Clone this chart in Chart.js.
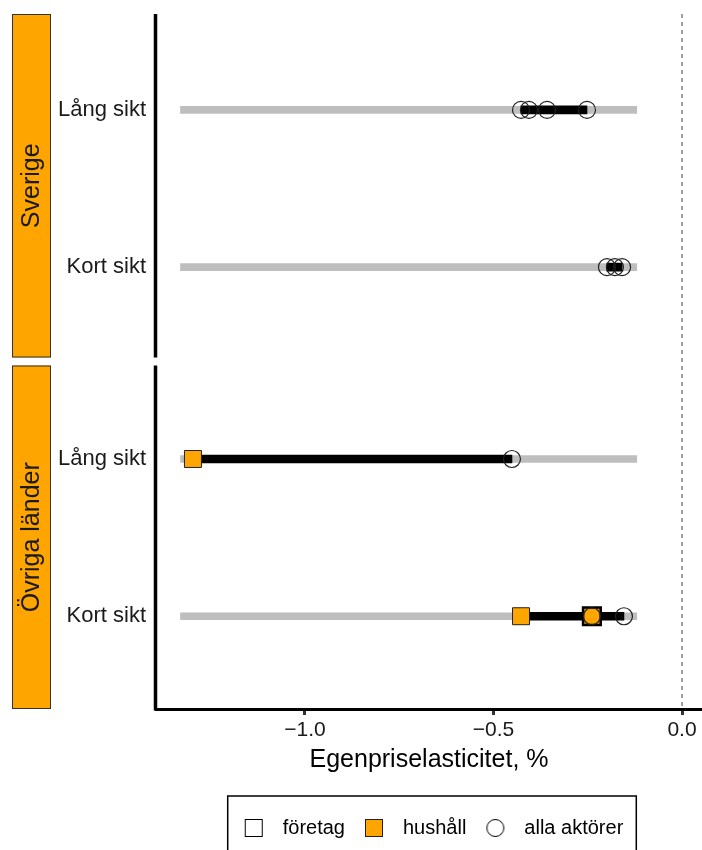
<!DOCTYPE html>
<html>
<head>
<meta charset="utf-8">
<script src="https://cdn.jsdelivr.net/npm/chart.js@4.4.1/dist/chart.umd.min.js"></script>
<style>
  html, body { margin: 0; padding: 0; background: #fff; }
  #wrap { width: 702px; height: 850px; }
</style>
</head>
<body>
<div id="wrap"><canvas id="chart" width="702" height="850"></canvas></div>
<script>
// rows inside each panel, panels top to bottom
const rowLabels = ['Lång sikt', 'Kort sikt'];
const panelLabels = ['Sverige', 'Övriga länder'];
const xTicks = [-1.0, -0.5, 0.0];

// grey background range drawn on every row
const fullRange = [-1.33, -0.12];

// estimates per actor group, [row 1 = Lång sikt, row 2 = Kort sikt]
const foretagSverige = [[], []];
const foretagOvriga = [[], [-0.239]];
const hushallSverige = [[], []];
const hushallOvriga = [[-1.297], [-0.427, -0.239]];
const allaSverige = [[-0.427, -0.406, -0.358, -0.252], [-0.199, -0.178, -0.159]];
const allaOvriga = [[-0.451], [-0.239, -0.154]];

const ORANGE = '#FFA500';
const TEXT = '#1a1a1a';

Chart.defaults.font.family = "'Liberation Sans', Arial, sans-serif";

const toPoints = (rows) => rows.flatMap((vals, r) => vals.map((v) => ({ x: v, y: r + 1 })));

const blackRanges = (groups) => rowLabels.map((_, r) => {
    const vals = groups.flatMap((g) => g[r]);
    return { y: r + 1, x: [Math.min(...vals), Math.max(...vals)] };
});

const greyRanges = rowLabels.map((_, r) => ({ y: r + 1, x: fullRange }));

// small canvases used as legend symbols
function symbol(draw) {
    const c = document.createElement('canvas');
    c.width = 20;
    c.height = 20;
    draw(c.getContext('2d'));
    return c;
}
const symForetag = symbol((g) => {
    g.fillStyle = '#fff';
    g.fillRect(1.5, 1.5, 17, 17);
    g.strokeStyle = '#000';
    g.lineWidth = 1;
    g.strokeRect(1.5, 1.5, 17, 17);
});
const symHushall = symbol((g) => {
    g.fillStyle = ORANGE;
    g.fillRect(1.5, 1.5, 17, 17);
    g.strokeStyle = '#222';
    g.lineWidth = 1;
    g.strokeRect(1.5, 1.5, 17, 17);
});
const symAlla = symbol((g) => {
    g.strokeStyle = '#000';
    g.lineWidth = 1;
    g.beginPath();
    g.arc(10, 10, 8.5, 0, Math.PI * 2);
    g.stroke();
});

function panelDatasets(axisId, foretag, hushall, alla) {
    return [
        {
            type: 'bar', indexAxis: 'y', yAxisID: axisId, xAxisID: 'x',
            data: greyRanges, backgroundColor: '#BEBEBE', borderWidth: 0,
            barThickness: 7, grouped: false, order: 5,
        },
        {
            type: 'bar', indexAxis: 'y', yAxisID: axisId, xAxisID: 'x',
            data: blackRanges([foretag, hushall, alla]), backgroundColor: '#000', borderWidth: 0,
            barThickness: 8, grouped: false, order: 4,
        },
        {
            type: 'scatter', label: 'hushåll', yAxisID: axisId, xAxisID: 'x',
            data: toPoints(hushall), pointStyle: 'rect', pointRadius: 12,
            backgroundColor: ORANGE, borderColor: '#222', borderWidth: 1, order: 3,
        },
        {
            type: 'scatter', label: 'företag', yAxisID: axisId, xAxisID: 'x',
            data: toPoints(foretag), pointStyle: 'rect', pointRadius: 12.5,
            backgroundColor: 'rgba(0,0,0,0)', borderColor: '#000', borderWidth: 2.5, order: 2,
        },
        {
            type: 'scatter', label: 'alla aktörer', yAxisID: axisId, xAxisID: 'x',
            data: toPoints(alla), pointStyle: 'circle', pointRadius: 8.5,
            backgroundColor: 'rgba(0,0,0,0)', borderColor: '#222', borderWidth: 1.2, order: 1,
        },
    ];
}

function rowAxis(weight, min) {
    return {
        type: 'linear',
        position: 'left',
        stack: 'panels',
        stackWeight: 1,
        weight,
        reverse: true,
        offset: false,
        min,
        max: min + 2.21,
        afterBuildTicks: (axis) => { axis.ticks = rowLabels.map((_, i) => ({ value: i + 1 })); },
        afterFit: (axis) => {
            axis.width = 156;
            axis.paddingTop = 0;
            axis.paddingBottom = 0;
        },
        grid: { display: false, drawTicks: false },
        border: { display: false },
        ticks: {
            color: TEXT,
            font: { size: 22 },
            padding: 10,
            callback: (v) => rowLabels[v - 1],
        },
    };
}

// strips, split left axis line, dashed zero line and legend frame
const panelDecor = {
    id: 'panelDecor',
    beforeDatasetsDraw(chart) {
        const { ctx, chartArea } = chart;
        const x0 = chart.scales.x.getPixelForValue(0);
        ctx.save();
        ctx.strokeStyle = '#444';
        ctx.lineWidth = 1;
        ctx.setLineDash([4, 4]);
        ctx.beginPath();
        ctx.moveTo(x0, chartArea.top);
        ctx.lineTo(x0, chartArea.bottom);
        ctx.stroke();
        ctx.restore();
    },
    afterDraw(chart) {
        const { ctx, chartArea } = chart;
        const axes = [chart.scales.ySv, chart.scales.yOv];
        ctx.save();
        axes.forEach((axis, i) => {
            const top = axis.top + (i === 0 ? 0 : 4);
            const bottom = axis.bottom - (i === axes.length - 1 ? 0 : 4);
            ctx.fillStyle = ORANGE;
            ctx.fillRect(12, top, 39, bottom - top);
            ctx.strokeStyle = '#333';
            ctx.lineWidth = 1;
            ctx.strokeRect(12.5, top + 0.5, 38, bottom - top - 1);

            ctx.save();
            ctx.translate(32, (top + bottom) / 2);
            ctx.rotate(-Math.PI / 2);
            ctx.fillStyle = TEXT;
            ctx.font = "25px 'Liberation Sans', Arial, sans-serif";
            ctx.textAlign = 'center';
            ctx.textBaseline = 'middle';
            ctx.fillText(panelLabels[i], 0, 0);
            ctx.restore();

            ctx.strokeStyle = '#000';
            ctx.lineWidth = 3.5;
            ctx.beginPath();
            ctx.moveTo(chartArea.left - 0.5, top);
            ctx.lineTo(chartArea.left - 0.5, i === axes.length - 1 ? bottom + 1.5 : bottom);
            ctx.stroke();
        });

        const lg = chart.legend;
        const hb = lg.legendHitBoxes;
        if (hb && hb.length) {
            const last = hb[hb.length - 1];
            const left = hb[0].left - 7;
            const right = last.left + last.width + 13;
            ctx.strokeStyle = '#000';
            ctx.lineWidth = 1.5;
            ctx.strokeRect(left, lg.top - 12, right - left, 120);
        }
        ctx.restore();
    },
};

new Chart(document.getElementById('chart'), {
    type: 'scatter',
    data: {
        datasets: [
            ...panelDatasets('ySv', foretagSverige, hushallSverige, allaSverige),
            ...panelDatasets('yOv', foretagOvriga, hushallOvriga, allaOvriga),
        ],
    },
    options: {
        responsive: false,
        animation: false,
        events: [],
        layout: { autoPadding: false, padding: { top: 14, left: 0, right: 0, bottom: 2 } },
        scales: {
            x: {
                type: 'linear',
                position: 'bottom',
                min: -1.395,
                max: 0.053,
                beginAtZero: false,
                afterBuildTicks: (axis) => { axis.ticks = xTicks.map((v) => ({ value: v })); },
                afterFit: (axis) => {
                    axis.height = 99;
                    axis.paddingLeft = 0;
                    axis.paddingRight = 0;
                },
                grid: {
                    display: true,
                    drawOnChartArea: false,
                    drawTicks: true,
                    tickLength: 6,
                    tickWidth: 3,
                    tickColor: '#333',
                },
                border: { display: true, color: '#000', width: 3 },
                ticks: {
                    color: TEXT,
                    font: { size: 21 },
                    padding: 3,
                    maxRotation: 0,
                    callback: (v) => (v < 0 ? '\u2212' + Math.abs(v).toFixed(1) : v.toFixed(1)),
                },
                title: {
                    display: true,
                    text: 'Egenpriselasticitet, %',
                    color: '#000',
                    font: { size: 25 },
                    padding: { top: 0, bottom: 33 },
                },
            },
            ySv: rowAxis(2, 0.39),
            yOv: rowAxis(1, 0.38),
        },
        plugins: {
            tooltip: { enabled: false },
            legend: {
                position: 'bottom',
                fullSize: false,
                align: 'center',
                onClick: null,
                labels: {
                    usePointStyle: true,
                    pointStyleWidth: 38,
                    padding: 10,
                    color: '#000',
                    font: { size: 20 },
                    generateLabels: () => [
                        { text: 'företag', pointStyle: symForetag, hidden: false, fontColor: '#000' },
                        { text: 'hushåll', pointStyle: symHushall, hidden: false, fontColor: '#000' },
                        { text: 'alla aktörer', pointStyle: symAlla, hidden: false, fontColor: '#000' },
                    ],
                },
            },
        },
    },
    plugins: [panelDecor],
});
</script>
</body>
</html>
